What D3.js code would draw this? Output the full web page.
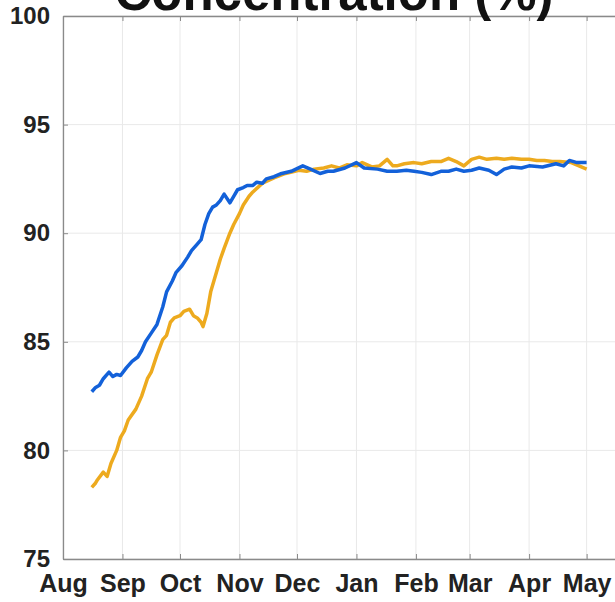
<!DOCTYPE html>
<html>
<head>
<meta charset="utf-8">
<script src="https://cdn.jsdelivr.net/npm/d3@7"></script>
<style>
	html, body {margin: 0; padding: 0; background: #fff;}
	svg {display: block; font-family: 'Liberation Sans', Arial, sans-serif;}
</style>
</head>
<body>
<div id="chart"></div>
<script>
// series (month-day, year 2018 for Aug-Dec, 2019 for Jan-May)
const blueDays = ['08-16','08-18','08-20','08-22','08-25','08-27','08-29','08-31','09-03','09-06','09-09','09-11','09-13','09-16','09-19','09-22','09-24','09-27','09-29','10-02','10-05','10-07','10-10','10-12','10-14','10-16','10-18','10-20','10-22','10-24','10-27','10-29','10-31','11-03','11-05','11-08','11-10','11-13','11-15','11-19','11-23','11-28','12-04','12-08','12-13','12-17','12-20','12-26','01-01','01-05','01-12','01-17','01-22','01-27','01-31','02-04','02-09','02-14','02-18','02-22','02-26','03-02','03-06','03-11','03-15','03-19','03-23','03-28','04-01','04-08','04-15','04-19','04-22','04-26','05-01'];
const blueConc = [82.7,82.9,83.0,83.3,83.6,83.4,83.5,83.45,83.8,84.1,84.3,84.6,85.0,85.4,85.8,86.6,87.3,87.8,88.2,88.5,88.9,89.2,89.5,89.7,90.4,90.9,91.2,91.3,91.5,91.8,91.4,91.7,92.0,92.1,92.2,92.2,92.35,92.3,92.5,92.6,92.75,92.85,93.1,92.95,92.75,92.85,92.85,93.0,93.25,93.0,92.95,92.85,92.85,92.9,92.85,92.8,92.7,92.85,92.85,92.95,92.85,92.9,93.0,92.9,92.7,92.95,93.05,93.0,93.1,93.05,93.2,93.1,93.35,93.25,93.25];

const orangeDays = ['08-16','08-18','08-19','08-22','08-24','08-26','08-29','08-31','09-02','09-04','09-08','09-11','09-14','09-16','09-19','09-22','09-24','09-26','09-28','10-01','10-03','10-06','10-08','10-10','10-12','10-13','10-15','10-16','10-17','10-20','10-22','10-24','10-27','10-29','11-01','11-03','11-06','11-08','11-13','11-19','11-25','12-02','12-06','12-10','12-15','12-19','12-23','12-27','01-01','01-04','01-09','01-13','01-17','01-20','01-22','01-26','01-31','02-04','02-09','02-14','02-18','02-22','02-26','03-02','03-06','03-10','03-15','03-19','03-23','03-28','04-01','04-05','04-09','04-13','04-17','04-23','04-27','05-01'];
const orangeConc = [78.3,78.5,78.65,79.0,78.8,79.4,80.0,80.6,80.9,81.4,81.9,82.5,83.3,83.6,84.4,85.1,85.3,85.9,86.1,86.2,86.4,86.5,86.2,86.1,85.9,85.7,86.3,86.8,87.3,88.2,88.8,89.3,90.0,90.4,90.9,91.3,91.7,91.9,92.3,92.55,92.75,92.9,92.85,92.95,93.0,93.1,93.0,93.15,93.1,93.25,93.05,93.1,93.4,93.1,93.1,93.2,93.25,93.2,93.3,93.3,93.45,93.3,93.1,93.4,93.5,93.4,93.45,93.4,93.45,93.4,93.4,93.35,93.35,93.3,93.3,93.25,93.1,92.95];

const yTicks = [75, 80, 85, 90, 95, 100];
const titleText = 'Concentration (%)';

const width = 615, height = 602;
const margin = {top: 16, right: -10, bottom: 43, left: 63};

const toDate = md => {
	const m = +md.slice(0, 2);
	return new Date(m >= 8 ? 2018 : 2019, m - 1, +md.slice(3));
};

const series = [
	{color: '#edaa1e', points: orangeDays.map((d, i) => ({date: toDate(d), value: orangeConc[i]}))},
	{color: '#1361d9', points: blueDays.map((d, i) => ({date: toDate(d), value: blueConc[i]}))}
];

const svg = d3.select('#chart')
	.append('svg')
	.attr('width', width)
	.attr('height', height);

const innerW = width - margin.left - margin.right;
const innerH = height - margin.top - margin.bottom;

// axis runs on past the right edge of the picture
const xScale = d3.scaleTime()
	.domain([new Date(2018, 7, 1), new Date(2019, 4, 21)])
	.range([0, innerW]);

const yScale = d3.scaleLinear()
	.domain([75, 100])
	.range([innerH, 0]);

const g = svg.append('g')
	.attr('transform', `translate(${margin.left}, ${margin.top})`);

const monthTicks = xScale.ticks(d3.timeMonth.every(1));

// grid
g.append('g')
	.selectAll('line')
	.data(monthTicks)
	.join('line')
	.attr('x1', d => xScale(d))
	.attr('x2', d => xScale(d))
	.attr('y1', 0)
	.attr('y2', innerH)
	.attr('stroke', '#e9e9e9')
	.attr('stroke-width', 1);

g.append('g')
	.selectAll('line')
	.data(yTicks)
	.join('line')
	.attr('x1', 0)
	.attr('x2', innerW)
	.attr('y1', d => yScale(d))
	.attr('y2', d => yScale(d))
	.attr('stroke', '#e9e9e9')
	.attr('stroke-width', 1);

// lines
const line = d3.line()
	.x(d => xScale(d.date))
	.y(d => yScale(d.value));

g.selectAll('.series')
	.data(series)
	.join('path')
	.attr('class', 'series')
	.attr('fill', 'none')
	.attr('stroke', d => d.color)
	.attr('stroke-width', 3.5)
	.attr('stroke-linejoin', 'round')
	.attr('d', d => line(d.points));

// axes (ticks pointing inward, box on)
const bottomAxis = g.append('g')
	.attr('transform', `translate(0, ${innerH})`)
	.call(d3.axisBottom(xScale).tickValues(monthTicks).tickSizeInner(-5).tickSizeOuter(0).tickPadding(15).tickFormat(d3.timeFormat('%b')));

const topAxis = g.append('g')
	.call(d3.axisTop(xScale).tickValues(monthTicks).tickSizeInner(-5).tickSizeOuter(0).tickFormat(''));

const leftAxis = g.append('g')
	.call(d3.axisLeft(yScale).tickValues(yTicks).tickSizeInner(-5).tickSizeOuter(0).tickPadding(13));

[bottomAxis, topAxis, leftAxis].forEach(a => {
	a.select('.domain').attr('stroke', '#8a8a8a').attr('stroke-width', 1.3);
	a.selectAll('.tick line').attr('stroke', '#8a8a8a');
	a.selectAll('.tick text')
		.attr('fill', '#222')
		.style('font-size', '24px')
		.style('font-weight', 'bold')
		.style('font-family', "'Liberation Sans', Arial, sans-serif");
});

bottomAxis.selectAll('.tick text')
	.attr('dy', '0.71em')
	.style('font-size', '25px');

// title, mostly cut off at the top
svg.append('text')
	.attr('x', 334)
	.attr('y', 10)
	.attr('text-anchor', 'middle')
	.attr('fill', '#111')
	.style('font-size', '51px')
	.style('font-weight', 'bold')
	.text(titleText);
</script>
</body>
</html>
